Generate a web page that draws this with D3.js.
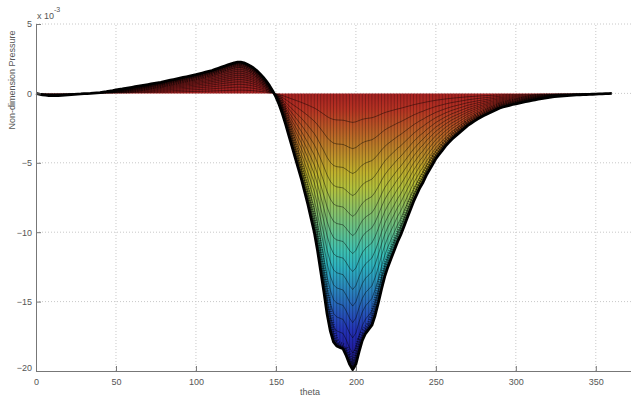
<!DOCTYPE html>
<html>
<head>
<meta charset="utf-8">
<script src="https://cdn.jsdelivr.net/npm/d3@7"></script>
<style>
  body { margin: 0; background: #fff; }
  svg { display: block; font-family: "Liberation Sans", Arial, sans-serif; }
</style>
</head>
<body>
<svg id="chart" width="631" height="398"></svg>
<script>
// crank angle grid (deg), one sample every 2 degrees
const theta = d3.range(0, 361, 2);

// non-dimension pressure, x 10^-3
const pressure = [
  0, -0.05, -0.1, -0.13, -0.15, -0.16, -0.16, -0.15, -0.14, -0.12,
  -0.11, -0.09, -0.07, -0.05, -0.04, -0.02, -0.01, 0.0, 0.02, 0.04,
  0.06, 0.09, 0.12, 0.16, 0.2, 0.26, 0.29, 0.32, 0.36, 0.4,
  0.44, 0.48, 0.52, 0.56, 0.6, 0.64, 0.68, 0.72, 0.76, 0.8,
  0.85, 0.9, 0.95, 1.0, 1.05, 1.1, 1.15, 1.2, 1.25, 1.3,
  1.35, 1.41, 1.47, 1.53, 1.59, 1.65, 1.73, 1.81, 1.89, 1.97,
  2.05, 2.13, 2.2, 2.25, 2.25, 2.2, 2.1, 1.98, 1.83, 1.64,
  1.42, 1.17, 0.88, 0.56, 0.18, -0.25, -0.8, -1.45, -2.2, -3.0,
  -3.8, -4.6, -5.4, -6.2, -7.1, -8.0, -9.0, -10.0, -11.3, -12.8,
  -14.3, -15.9, -17.1, -17.9, -18.2, -18.3, -18.4, -18.9, -19.5, -19.9,
  -19.5, -18.6, -17.8, -17.3, -17.0, -16.7, -16.0, -15.1, -14.1, -13.2,
  -12.5, -11.9, -11.3, -10.7, -10.2, -9.6, -9.0, -8.4, -7.8, -7.3,
  -6.8, -6.4, -5.9, -5.5, -5.1, -4.7, -4.4, -4.1, -3.8, -3.55,
  -3.3, -3.1, -2.9, -2.7, -2.5, -2.3, -2.15, -2.0, -1.85, -1.72,
  -1.6, -1.48, -1.37, -1.26, -1.15, -1.05, -0.98, -0.92, -0.86, -0.8,
  -0.75, -0.7, -0.65, -0.6, -0.55, -0.5, -0.46, -0.42, -0.38, -0.34,
  -0.3, -0.27, -0.24, -0.21, -0.19, -0.17, -0.15, -0.14, -0.12, -0.11,
  -0.1, -0.09, -0.08, -0.07, -0.06, -0.05, -0.04, -0.03, -0.02, -0.01,
  0
];

// fraction of the outer curve at which each inner mesh curve sits
const meshLevels = [0.105, 0.2, 0.29, 0.37, 0.445, 0.515, 0.58, 0.645, 0.71, 0.77, 0.83, 0.885, 0.94];

const xTicks = [0, 50, 100, 150, 200, 250, 300, 350];
const yTicks = [5, 0, -5, -10, -15, -20];

const svg = d3.select('#chart'),
  x = d3.scaleLinear().domain([0, 372]).range([36, 631]),
  y = d3.scaleLinear().domain([-20, 5]).range([371, 24]);

const pts = theta.map((t, i) => ({ t: t, p: pressure[i] }));

// matlab jet, muted like the lit surface
function jet(v) {
  const t = (v + 20.5) / 22.8;
  const c = k => Math.max(0, Math.min(1, 1.5 - Math.abs(4 * t - k)));
  const r = c(3), g = c(2), b = c(1);
  const l = (r + g + b) / 3;
  const m = a => Math.round((a * 0.8 + l * 0.2) * 255 * 0.72 + 22);
  return 'rgb(' + m(r) + ',' + m(g) + ',' + m(b) + ')';
}

// grid
const grid = svg.append('g')
  .attr('stroke', '#c8c8c8')
  .attr('stroke-width', 1)
  .attr('stroke-dasharray', '1,2');
grid.selectAll('.gx').data(xTicks.slice(1)).enter().append('line')
  .attr('x1', d => x(d)).attr('x2', d => x(d))
  .attr('y1', y(-20)).attr('y2', y(5));
grid.selectAll('.gy').data(yTicks.slice(0, -1)).enter().append('line')
  .attr('x1', x(0)).attr('x2', 631)
  .attr('y1', d => y(d)).attr('y2', d => y(d));

const defs = svg.append('defs');

// colour along the value axis
const grad = defs.append('linearGradient')
  .attr('id', 'jet')
  .attr('gradientUnits', 'userSpaceOnUse')
  .attr('x1', 0).attr('x2', 0)
  .attr('y1', y(2.3)).attr('y2', y(-20.5));
d3.range(0, 1.0001, 0.05).forEach(f => {
  grad.append('stop')
    .attr('offset', f)
    .attr('stop-color', jet(2.3 - f * 22.8));
});

const area = d3.area()
  .x(d => x(d.t))
  .y0(y(0))
  .y1(d => y(d.p));

defs.append('clipPath').attr('id', 'surf')
  .append('path').datum(pts).attr('d', area);

svg.append('path')
  .datum(pts)
  .attr('fill', 'url(#jet)')
  .attr('d', area);

const outer = d3.line().x(d => x(d.t)).y(d => y(d.p));
const inside = svg.append('g').attr('clip-path', 'url(#surf)');

// vertical mesh lines
inside.append('g')
  .selectAll('line').data(pts).enter().append('line')
  .attr('x1', d => x(d.t)).attr('x2', d => x(d.t))
  .attr('y1', y(0)).attr('y2', d => y(d.p))
  .attr('stroke', '#000')
  .attr('stroke-opacity', 0.38)
  .attr('stroke-width', 0.7);

// inner mesh curves
meshLevels.forEach(s => {
  inside.append('path')
    .datum(pts)
    .attr('fill', 'none')
    .attr('stroke', '#000')
    .attr('stroke-opacity', 0.55)
    .attr('stroke-width', 0.8)
    .attr('d', d3.line().x(d => x(d.t)).y(d => y(d.p * s)));
});

// dotted dark band where the mesh bunches up near the edge
inside.append('path')
  .datum(pts)
  .attr('fill', 'none')
  .attr('stroke', '#000')
  .attr('stroke-opacity', 0.5)
  .attr('stroke-width', 11)
  .attr('stroke-dasharray', '1,1.3')
  .attr('d', outer);
inside.append('path')
  .datum(pts)
  .attr('fill', 'none')
  .attr('stroke', '#000')
  .attr('stroke-opacity', 0.35)
  .attr('stroke-width', 6)
  .attr('d', outer);

// outer curve
svg.append('path')
  .datum(pts)
  .attr('fill', 'none')
  .attr('stroke', '#000')
  .attr('stroke-width', 2.8)
  .attr('stroke-linejoin', 'round')
  .attr('d', outer);

// axes (ticks point inward, matlab style)
const gx = svg.append('g')
  .attr('transform', 'translate(0,' + y(-20) + ')')
  .call(d3.axisBottom(x).tickValues(xTicks).tickSizeInner(-5).tickSizeOuter(0).tickPadding(8));
const gy = svg.append('g')
  .attr('transform', 'translate(' + x(0) + ',0)')
  .call(d3.axisLeft(y).tickValues(yTicks).tickSizeInner(-5).tickSizeOuter(0).tickPadding(4));

[gx, gy].forEach(g => {
  g.select('.domain').attr('stroke', '#777');
  g.selectAll('.tick line').attr('stroke', '#777');
  g.selectAll('.tick text').attr('fill', '#555').attr('font-size', 9)
    .attr('font-family', '"Liberation Sans", Arial, sans-serif');
});
gy.selectAll('.tick text').filter(d => d === -20).attr('dy', '-0.1em');

svg.append('text')
  .attr('x', 310).attr('y', 395)
  .attr('text-anchor', 'middle')
  .attr('fill', '#555')
  .attr('font-size', 9)
  .text('theta');

svg.append('text')
  .attr('transform', 'translate(15,80) rotate(-90)')
  .attr('text-anchor', 'middle')
  .attr('fill', '#555')
  .attr('font-size', 9)
  .text('Non-dimension Pressure');

const mult = svg.append('text')
  .attr('x', 37).attr('y', 19)
  .attr('fill', '#555')
  .attr('font-size', 9);
mult.append('tspan').text('x 10');
mult.append('tspan').attr('dy', -7).attr('font-size', 7).text('-3');
</script>
</body>
</html>
